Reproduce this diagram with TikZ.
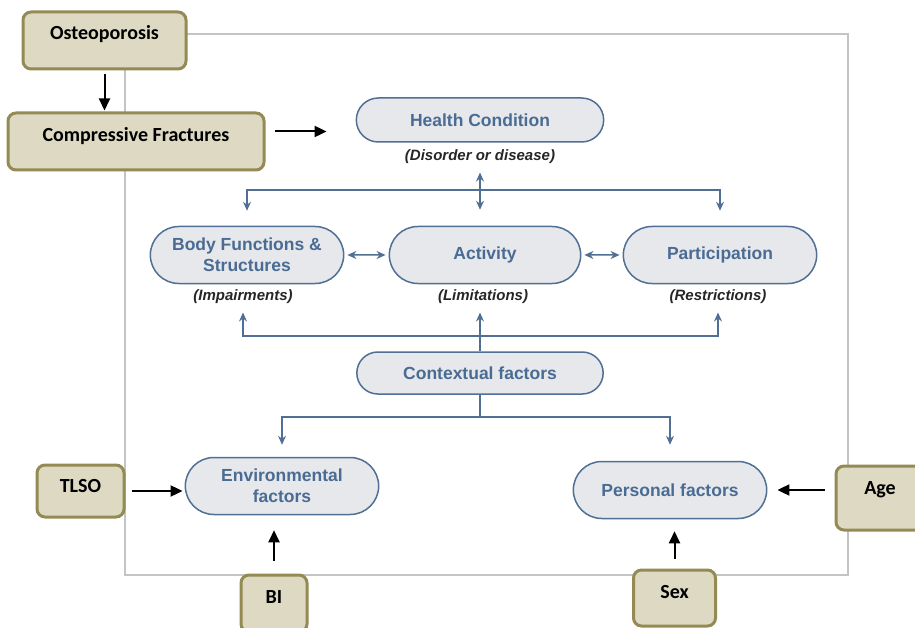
\documentclass[tikz,border=0pt]{standalone}
\usepackage{fontspec}
\setmainfont{Liberation Sans}
\newfontfamily\calfont{Carlito}
\usetikzlibrary{arrows.meta}
\usetikzlibrary{shapes.misc}
\definecolor{icfblue}{HTML}{4F6F94}
\definecolor{icftext}{HTML}{4A6B93}
\definecolor{icffill}{HTML}{E6E8EB}
\definecolor{tanfill}{HTML}{DDD9C3}
\definecolor{tanline}{HTML}{948A54}
\definecolor{framegray}{HTML}{C4C4C4}

\begin{document}
\begin{tikzpicture}[x=1pt,y=-1pt,
    icfbox/.style={rounded rectangle,draw=icfblue,line width=1.5pt,fill=icffill,text=icftext,
      font=\fontsize{17.5}{21}\selectfont\bfseries,minimum width=200pt,minimum height=57pt,align=center},
    icflabel/.style={font=\fontsize{15}{17}\selectfont\bfseries\itshape,text=black!85},
    icfline/.style={draw=icfblue,line width=1.5pt},
    icfarrow/.style={icfline,-{Stealth[length=9pt,width=8pt,inset=3pt]}},
    icfboth/.style={icfline,{Stealth[length=9pt,width=8pt,inset=3pt]}-{Stealth[length=9pt,width=8pt,inset=3pt]}},
    tanbox/.style={draw=tanline,fill=tanfill,line width=3pt,rounded corners=8pt,
      font=\calfont\fontsize{20}{22}\selectfont\bfseries,text height=14pt,text depth=14pt},
    blackarrow/.style={line width=2pt,-{Triangle[length=12pt,width=11pt]}}]
    \useasboundingbox (0,0) rectangle (915,628);
    \draw[framegray,line width=1.5pt] (125,34) rectangle (848,575);

    \node[icfbox,minimum width=254pt,minimum height=44pt] (health) at (480,120) {Health Condition};
    \node[icflabel] (disorder) at (480,157) {(Disorder or disease)};
    \node[icfbox] (body) at (247,255) {Body Functions \&\\Structures};
    \node[icfbox,minimum width=198pt] (activity) at (485,255) {Activity};
    \node[icfbox] (part) at (720,255) {Participation};
    \node[icflabel] (impair) at (243,297) {(Impairments)};
    \node[icflabel] (limit) at (483,297) {(Limitations)};
    \node[icflabel] (restrict) at (718,297) {(Restrictions)};
    \node[icfbox,minimum width=253pt,minimum height=42pt] (context) at (480,373) {Contextual factors};
    \node[icfbox] (env) at (282,486) {Environmental\\factors};
    \node[icfbox] (pers) at (670,490) {Personal factors};

    \node[tanbox,minimum width=163pt,minimum height=57pt,text depth=16pt] (osteo) at (104.5,40.5) {Osteoporosis};
    \node[tanbox,minimum width=256pt,minimum height=57pt] (comp) at (136,141.5) {Compressive Fractures};
    \node[tanbox,minimum width=87pt,minimum height=52pt,text depth=11pt] (tlso) at (80.5,491) {TLSO};
    \node[tanbox,minimum width=66pt,minimum height=57pt] (bi) at (274,603.5) {BI};
    \node[tanbox,minimum width=88pt,minimum height=64pt,text depth=21pt] (age) at (880,498) {Age};
    \node[tanbox,minimum width=82pt,minimum height=56pt] (sex) at (674.5,598) {Sex};

    \coordinate (upsplit) at (480,190);
    \coordinate (lowsplit) at (480,336);
    \coordinate (envsplit) at (480,417);

    \draw[icfboth,shorten <=5pt,shorten >=16pt] (disorder.south) -- (disorder.south |- activity.north);
    \draw[icfarrow,shorten >=15pt] (upsplit) -| (body.north);
    \draw[icfarrow,shorten >=15pt] (upsplit) -| (part.north);
    \draw[icfboth,shorten <=3pt,shorten >=3pt] (body) -- (activity);
    \draw[icfboth,shorten <=3pt,shorten >=3pt] (activity) -- (part);
    \draw[icfarrow,shorten >=5pt] (context.north) -- (context.north |- limit.south);
    \draw[icfarrow,shorten >=5pt] (lowsplit) -| (impair.south);
    \draw[icfarrow,shorten >=5pt] (lowsplit) -| (restrict.south);
    \draw[icfline] (context.south) -- (envsplit);
    \draw[icfarrow,shorten >=12pt] (envsplit) -| (env.north);
    \draw[icfarrow,shorten >=16pt] (envsplit) -| (pers.north);

    \draw[blackarrow,shorten <=4pt,shorten >=1pt] (osteo.south) -- (osteo.south |- comp.north);
    \draw[blackarrow,shorten <=9pt,shorten >=29pt] ([yshift=10pt]comp.east) -- ([yshift=10pt]comp.east -| health.west);
    \draw[blackarrow,shorten <=6pt,shorten >=2pt] (tlso.east) -- (tlso.east -| env.west);
    \draw[blackarrow,shorten <=13pt,shorten >=15pt] (bi.north) -- (bi.north |- env.south);
    \draw[blackarrow,shorten <=10pt,shorten >=10pt] (pers.east -| age.west) -- (pers.east);
    \draw[blackarrow,shorten <=10pt,shorten >=12pt] (sex.north) -- (sex.north |- pers.south);
\end{tikzpicture}
\end{document}
